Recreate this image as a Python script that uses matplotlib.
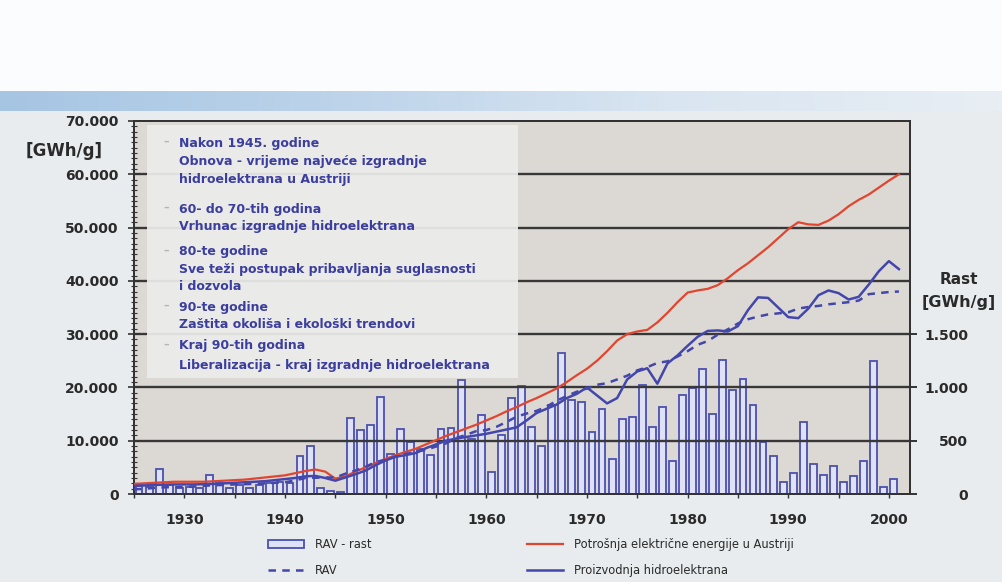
import numpy as np
import matplotlib
matplotlib.use("Agg")
import matplotlib.pyplot as plt
from matplotlib.ticker import MultipleLocator
from matplotlib.patches import Rectangle, Patch
from matplotlib.lines import Line2D
from matplotlib.colors import LinearSegmentedColormap

plt.rcParams['font.family'] = ['DejaVu Sans']

# ---------------- data ----------------
bar_years = list(range(1925, 2001))
rav_rast = [85, 65, 230, 80, 60, 70, 60, 180, 100, 60,
            80, 60, 80, 100, 110, 100, 360, 450, 60, 30,
            20, 716, 604, 651, 912, 377, 613, 490, 420, 370,
            606, 620, 1068, 519, 738, 207, 550, 905, 1009, 632,
            453, 833, 1320, 880, 860, 584, 801, 330, 701, 723,
            1021, 632, 820, 314, 927, 990, 1172, 754, 1257, 974,
            1078, 839, 487, 361, 116, 195, 676, 283, 179, 267,
            116, 173, 314, 1248, 63, 141]

line_years = list(range(1925, 2002))
potrosnja = [1900, 2000, 2100, 2200, 2300, 2300, 2300, 2300, 2400, 2500,
             2600, 2700, 2900, 3100, 3300, 3500, 3900, 4300, 4600, 4200,
             2900, 3300, 4200, 5000, 5800, 6600, 7300, 7900, 8500, 9300,
             10100, 10900, 11600, 12300, 13000, 13800, 14600, 15500, 16300, 17200,
             18000, 18900, 19800, 21000, 22300, 23500, 25000, 26800, 28800, 30000,
             30500, 30800, 32200, 34000, 36000, 37800, 38200, 38500, 39200, 40500,
             42000, 43300, 44800, 46300, 48000, 49700, 51000, 50600, 50500, 51300,
             52500, 54000, 55200, 56200, 57500, 58800, 60000]
proizvodnja = [1500, 1600, 1700, 1750, 1800, 1800, 1800, 1850, 1900, 2000,
               2100, 2200, 2300, 2400, 2600, 2800, 3000, 3300, 3400, 3000,
               2500, 3100, 3700, 4400, 5400, 6300, 7000, 7300, 7700, 8600,
               9300, 10000, 10400, 10700, 11000, 11300, 11700, 12100, 12500, 13800,
               15200, 16000, 16800, 18000, 18800, 20000, 18500, 17000, 18000, 21500,
               23000, 23600, 20700, 24500, 26000, 27800, 29500, 30600, 30700, 30500,
               31500, 34500, 36900, 36800, 35000, 33200, 33000, 34800, 37300, 38200,
               37700, 36500, 37000, 39300, 41800, 43700, 42200]
rav = [900, 950, 1150, 1250, 1300, 1350, 1400, 1550, 1650, 1700,
       1800, 1850, 1900, 2000, 2100, 2200, 2550, 3000, 3050, 3100,
       3100, 3800, 4400, 5100, 6000, 6400, 7000, 7500, 7900, 8300,
       8900, 9500, 10500, 11100, 11800, 12000, 12600, 13500, 14500, 15100,
       15600, 16400, 17500, 18400, 19200, 19800, 20500, 20800, 21500, 22200,
       23200, 23800, 24600, 24900, 25800, 26800, 28000, 28700, 29900, 30900,
       32000, 32800, 33300, 33700, 33900, 34100, 34800, 35100, 35300, 35600,
       35800, 36000, 36300, 37500, 37700, 37900, 38000]

left_ticks = [0, 10000, 20000, 30000, 40000, 50000, 60000, 70000]
left_labels = ['0', '10.000', '20.000', '30.000', '40.000', '50.000', '60.000', '70.000']
right_ticks = [0, 500, 1000, 1500]
right_labels = ['0', '500', '1.000', '1.500']
x_ticks = [1930, 1940, 1950, 1960, 1970, 1980, 1990, 2000]

box_lines = [
    ("Nakon 1945. godine", True),
    ("Obnova - vrijeme najveće izgradnje", False),
    ("hidroelektrana u Austriji", False),
    ("60- do 70-tih godina", True),
    ("Vrhunac izgradnje hidroelektrana", False),
    ("80-te godine", True),
    ("Sve teži postupak pribavljanja suglasnosti", False),
    ("i dozvola", False),
    ("90-te godine", True),
    ("Zaštita okoliša i ekološki trendovi", False),
    ("Kraj 90-tih godina", True),
    ("Liberalizacija - kraj izgradnje hidroelektrana", False),
]
box_line_y = [143, 162, 180, 209, 227, 252, 270, 287, 307, 325, 346, 365]

# ---------------- figure ----------------
W, H = 1002, 582
fig = plt.figure(figsize=(W / 100, H / 100), dpi=100)
fig.patch.set_facecolor('#e8ecef')

def fx(px):
    return px / W

def fy(py):
    return 1 - py / H

# background decoration
bg = fig.add_axes([0, 0, 1, 1], zorder=-10)
bg.axis('off')
bg.add_patch(Rectangle((0, 0), W, 91, color='#fbfcfd', lw=0))
grad = np.linspace(0, 1, 256)[None, :]
cm = LinearSegmentedColormap.from_list('band', ['#a6c5e3', '#bcd3ea', '#d9e5f1', '#e8eef4'])
bg.imshow(grad, extent=(0, W, 111, 91), aspect='auto', cmap=cm, zorder=1)
bg.set_xlim(0, W)
bg.set_ylim(H, 0)

ax = fig.add_axes([fx(134), fy(494), fx(910) - fx(134), fy(121) - fy(494)])
ax2 = ax.twinx()
ax.set_zorder(ax2.get_zorder() + 1)
ax.patch.set_visible(False)
ax2.patch.set_visible(True)
ax2.patch.set_facecolor('#dcd9d5')

ax.set_xlim(1925.0, 2002.1)
ax.set_ylim(0, 70000)
ax2.set_ylim(0, 3500)

# bars (RAV - rast), right axis
ax2.bar(np.array(bar_years) + 0.5, rav_rast, width=0.68, color='#dfe1f6',
        edgecolor='#4a4fb0', linewidth=1.3, zorder=2)

# grid lines
for v in left_ticks[1:-1]:
    ax.axhline(v, color='#383838', lw=1.7, zorder=1)

# text box
ax.add_patch(Rectangle((fx(147), fy(378)), fx(518) - fx(147), fy(125) - fy(378),
                       transform=fig.transFigure, facecolor='#ececea', alpha=0.93,
                       edgecolor='none', zorder=2))

# lines
ax.plot(line_years, potrosnja, color='#e2452f', lw=1.6, zorder=3)
ax.plot(line_years, proizvodnja, color='#4346aa', lw=1.8, zorder=3)
ax.plot(line_years, rav, color='#4346aa', lw=1.8, ls=(0, (3, 2.5)), zorder=3)

# axes styling
for sp in ['left', 'bottom', 'top', 'right']:
    for a in (ax, ax2):
        a.spines[sp].set_color('#333333')
        a.spines[sp].set_linewidth(1.4)

ax.set_yticks(left_ticks)
ax.set_yticklabels(left_labels, fontweight='bold', fontsize=10, color='#2a2a2a')
ax.yaxis.set_minor_locator(MultipleLocator(1000))
ax.tick_params(axis='y', which='major', direction='inout', length=8, width=1.2,
               color='#333333', pad=7)
ax.tick_params(axis='y', which='minor', direction='inout', length=4, width=0.8,
               color='#333333')

ax.set_xticks(x_ticks)
ax.set_xticklabels([str(t) for t in x_ticks], fontweight='bold', fontsize=10, color='#2a2a2a')
ax.xaxis.set_minor_locator(MultipleLocator(5))
ax.tick_params(axis='x', which='both', direction='out', length=3, width=1,
               color='#333333', pad=11)

ax2.set_yticks(right_ticks)
ax2.set_yticklabels(right_labels, fontweight='bold', fontsize=10, color='#2a2a2a', ha='right')
ax2.tick_params(axis='y', which='major', direction='out', length=5, width=1.4,
                color='#333333', pad=37)

# axis unit labels
fig.text(fx(103), fy(151), '[GWh/g]', ha='right', va='center', fontsize=12,
         fontweight='bold', color='#2a2a2a')
fig.text(fx(959), fy(279), 'Rast', ha='center', va='center', fontsize=11,
         fontweight='bold', color='#2a2a2a')
fig.text(fx(959), fy(303), '[GWh/g]', ha='center', va='center', fontsize=11.5,
         fontweight='bold', color='#2a2a2a')

# box text
for (txt, head), yy in zip(box_lines, box_line_y):
    ax.text(fx(179), fy(yy), txt, transform=fig.transFigure, ha='left', va='center',
            fontsize=9, fontweight='bold', color='#3b3e9e', zorder=5)
    if head:
        ax.text(fx(166), fy(yy - 1), '\u2013', transform=fig.transFigure, ha='center',
                va='center', fontsize=8, fontweight='bold', color='#b4b4b8', zorder=5)

# legends
h_bar = Patch(facecolor='#dfe1f6', edgecolor='#4a4fb0', linewidth=1.3)
h_rav = Line2D([], [], color='#4346aa', lw=1.8, ls=(0, (3, 2.5)))
h_red = Line2D([], [], color='#e2452f', lw=1.6)
h_blue = Line2D([], [], color='#4346aa', lw=1.8)
leg_kw = dict(loc='upper left', frameon=False, fontsize=8.3, handlelength=3.1,
              handletextpad=1.0, labelspacing=1.15, borderaxespad=0, borderpad=0,
              labelcolor='#2a2a2a')
fig.legend([h_bar, h_rav], ['RAV - rast', 'RAV'], bbox_to_anchor=(fx(268), fy(538)), **leg_kw)
fig.legend([h_red, h_blue], ['Potrošnja električne energije u Austriji', 'Proizvodnja hidroelektrana'],
           bbox_to_anchor=(fx(527), fy(538)), **leg_kw)

fig.savefig('out.png', dpi=100, facecolor=fig.get_facecolor())
